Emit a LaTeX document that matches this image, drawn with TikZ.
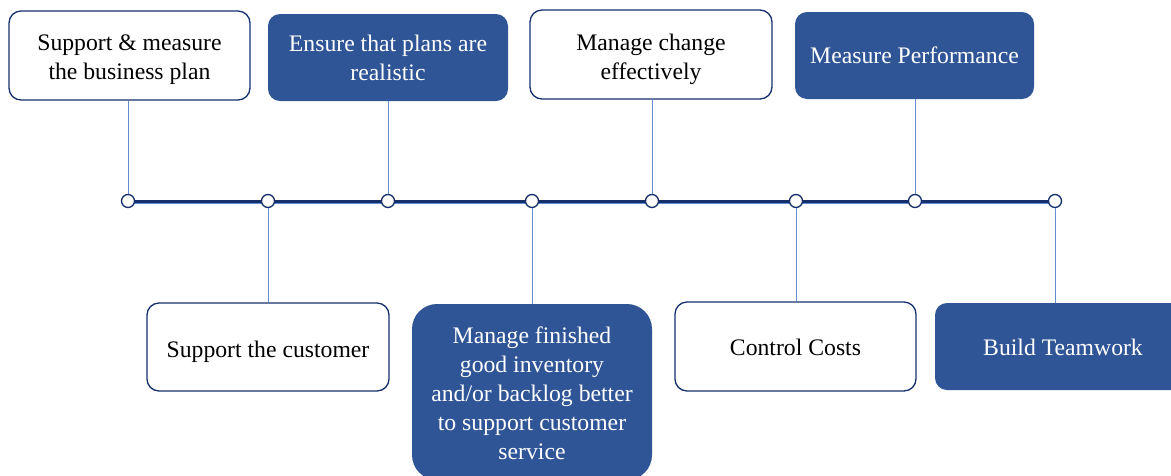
\documentclass[tikz,border=0pt]{standalone}
\usepackage{fontspec}
\setmainfont{Liberation Serif}
\definecolor{navy}{RGB}{22,48,110}
\definecolor{boxblue}{RGB}{47,85,151}
\definecolor{linkblue}{RGB}{100,140,210}
\begin{document}
\begin{tikzpicture}[x=1pt,y=-1pt,
  every node/.style={inner sep=0pt},
  txt/.style={font=\fontsize{23.7}{29}\selectfont, align=center},
  wtxt/.style={txt, text=black},
  btxt/.style={txt, text=white},
  wbox/.style={draw=navy, line width=1.3pt, fill=white, rounded corners=12pt},
  bbox/.style={fill=boxblue, rounded corners=12pt},
  dot/.style={circle, draw=navy, line width=1.3pt, fill=white, minimum size=13pt},
  link/.style={draw=linkblue, line width=0.9pt}]
\useasboundingbox (0,0) rectangle (1171,475);
% boxes
\node[wbox, minimum width=241pt, minimum height=89pt] (b1) at (129.5,55.5) {};
\node[bbox, minimum width=240pt, minimum height=87pt] (b2) at (388,57.5) {};
\node[wbox, minimum width=242pt, minimum height=89pt] (b3) at (651,54.5) {};
\node[bbox, minimum width=239pt, minimum height=87pt] (b4) at (914.5,55.5) {};
\node[wbox, minimum width=242pt, minimum height=88pt] (b5) at (268,347) {};
\node[bbox, rounded corners=25pt, minimum width=240pt, minimum height=176pt] (b6) at (532,392) {};
\node[wbox, minimum width=241pt, minimum height=89pt] (b7) at (795.5,346.5) {};
\node[bbox, minimum width=256pt, minimum height=87pt] (b8) at (1063,346.5) {};
% texts
\node[wtxt] (t1) at ([yshift=-4.5pt]b1.center) {Support \& measure\\the business plan};
\node[btxt] (t2) at ([yshift=-0.5pt]b2.center) {Ensure that plans are\\realistic};
\node[wtxt] (t3) at ([yshift=-4.5pt]b3.center) {Manage change\\effectively};
\node[btxt] (t4) at ([yshift=0pt]b4.center) {Measure Performance};
\node[wtxt] (t5) at ([yshift=-4.5pt]b5.center) {Support the customer};
\node[btxt] (t6) at ([yshift=-1pt]b6.center) {Manage finished\\good inventory\\and/or backlog better\\to support customer\\service};
\node[wtxt] (t7) at ([yshift=-1pt]b7.center) {Control Costs};
\node[btxt] (t8) at ([yshift=-1pt]b8.center) {Build Teamwork};
% timeline
\coordinate (tl) at (128,201);
\coordinate (tr) at (1055,201);
\draw[linkblue, line width=1pt] ([yshift=-2pt]tl) -- ([yshift=-2pt]tr);
\draw[navy, line width=3pt] (tl) -- (tr);
% dots
\node[dot] (c1) at (128,201) {};
\node[dot] (c2) at (268,201) {};
\node[dot] (c3) at (388,201) {};
\node[dot] (c4) at (532,201) {};
\node[dot] (c5) at (652,201) {};
\node[dot] (c6) at (796,201) {};
\node[dot] (c7) at (915,201) {};
\node[dot] (c8) at (1055,201) {};
% connectors
\draw[link] (c1.north |- b1.south) -- (c1.north);
\draw[link] (b2.south) -- (c3.north);
\draw[link] (c5.north |- b3.south) -- (c5.north);
\draw[link] (c7.north |- b4.south) -- (c7.north);
\draw[link] (c2.south) -- (c2.south |- b5.north);
\draw[link] (c4.south) -- (b6.north);
\draw[link] (c6.south) -- (c6.south |- b7.north);
\draw[link] (c8.south) -- (c8.south |- b8.north);
\end{tikzpicture}
\end{document}
